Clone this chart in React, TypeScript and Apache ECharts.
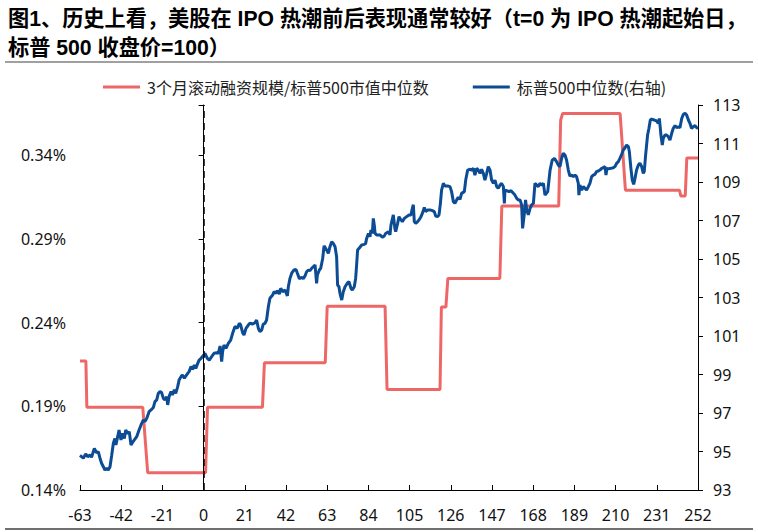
import React, { useEffect, useRef } from "react";
import * as echarts from "echarts";

const titleText = "图1、历史上看，美股在 IPO 热潮前后表现通常较好（t=0 为 IPO 热潮起始日，\n标普 500 收盘价=100）";
const seriesNames = ["3个月滚动融资规模/标普500市值中位数", "标普500中位数(右轴)"];

// x axis: trading days relative to IPO boom start
const xMin = -63;
const xMax = 252;
const xInterval = 21;

// left axis (%)
const leftMin = 0.14;
const leftMax = 0.37;
const leftInterval = 0.05;

// right axis
const rightMin = 93;
const rightMax = 113;
const rightInterval = 2;

// 3-month rolling financing / S&P 500 median market cap (%), breakpoints of the step line
const financingRatio: [number, number][] = [
  [-63, 0.217], [-60, 0.217], [-59.5, 0.1894], [-31, 0.1894], [-28.5, 0.1503],
  [1, 0.1503], [2, 0.1894], [30, 0.1894], [31, 0.216], [62, 0.216],
  [63, 0.2498], [92.5, 0.2498], [93.5, 0.2001], [120.5, 0.2001], [121.2, 0.2493],
  [123.5, 0.2493], [124.5, 0.2664], [151, 0.2664], [152, 0.3096], [181, 0.3096],
  [182, 0.361], [183, 0.3649], [212.3, 0.3649], [215, 0.3191], [242.6, 0.3191],
  [243.2, 0.3157], [245.5, 0.3157], [246.3, 0.3384], [252, 0.3384],
];

// S&P 500 median (t=0 close = 100), right axis
const spxMedian: [number, number][] = [
  [-63, 94.8], [-61.3, 94.65], [-60.1, 94.87], [-59.1, 94.73], [-57.9, 94.82], [-57.1, 94.7],
  [-55.7, 95.16], [-54.5, 94.94], [-53.7, 94.99], [-52.8, 94.65], [-52.0, 94.39], [-51.1, 94.21],
  [-50.3, 94.04], [-49.4, 94.13], [-48.6, 94.04], [-47.7, 94.21], [-46.9, 94.77], [-46.0, 95.43],
  [-45.2, 95.68], [-44.7, 95.34], [-43.8, 95.77], [-43.1, 96.12], [-42.1, 95.6], [-41.4, 95.94],
  [-40.4, 95.68], [-39.7, 96.12], [-38.7, 95.94], [-37.9, 96.03], [-37.0, 95.34], [-36.3, 95.46],
  [-35.3, 95.6], [-34.1, 95.77], [-32.9, 96.12], [-31.9, 96.38], [-30.7, 96.64], [-29.9, 96.55],
  [-29.0, 96.72], [-27.8, 97.07], [-26.8, 97.16], [-25.6, 97.29], [-24.8, 97.59], [-23.9, 97.68],
  [-23.1, 98.02], [-22.2, 98.11], [-21.4, 98.06], [-20.5, 97.76], [-19.7, 97.68], [-18.8, 97.85],
  [-18.3, 97.42], [-17.6, 97.85], [-16.6, 98.11], [-15.9, 97.94], [-14.9, 98.2], [-14.2, 98.02],
  [-13.2, 98.37], [-12.5, 98.71], [-11.5, 98.89], [-10.8, 98.97], [-9.8, 98.8], [-9.1, 98.92],
  [-8.1, 99.06], [-7.4, 99.15], [-6.4, 99.41], [-5.6, 99.27], [-4.7, 99.49], [-4.0, 99.32],
  [-3.0, 99.58], [-2.3, 99.75], [-1.3, 99.84], [0, 100.0],
  [0.7, 100.1], [1.9, 99.84], [2.9, 99.75], [4.1, 99.93], [5.3, 100.1], [6.7, 100.13],
  [7.5, 100.1], [8.4, 100.48], [9.2, 99.67], [9.7, 100.19], [10.4, 100.53], [11.4, 100.36],
  [12.6, 100.62], [13.8, 100.79], [14.8, 101.14], [16.0, 101.49], [17.2, 101.4], [18.2, 101.66],
  [18.9, 101.57], [19.9, 101.17], [20.6, 101.05], [21.6, 101.4], [22.8, 101.57], [23.6, 101.66],
  [25.0, 101.62], [26.2, 101.69], [27.0, 101.83], [27.9, 101.4], [28.7, 101.23], [29.6, 101.31],
  [30.4, 101.62], [31.3, 101.66], [32.1, 101.83], [33.0, 102.52], [33.8, 102.96], [35.2, 103.13],
  [35.9, 103.3], [36.9, 103.22], [37.6, 103.36], [38.6, 103.18], [39.3, 103.48], [40.3, 103.3],
  [41.5, 103.39], [42.7, 103.08], [43.2, 103.56], [44.0, 103.98], [44.9, 104.26], [46.1, 104.43],
  [47.1, 104.46], [47.8, 104.26], [48.8, 103.98], [50.0, 104.05], [50.8, 103.98], [51.7, 104.12],
  [52.5, 104.34], [53.4, 104.43], [54.2, 104.39], [55.1, 104.52], [55.9, 104.6], [56.8, 104.69],
  [57.6, 103.74], [58.0, 104.17], [59.0, 104.43], [59.7, 104.52], [60.7, 105.03], [61.4, 105.68],
  [62.7, 105.47], [63.6, 105.29], [64.4, 105.64], [65.3, 105.9], [66.1, 105.81], [67.0, 105.64],
  [67.8, 105.12], [68.3, 103.65], [69.0, 103.56], [69.5, 103.22], [70.4, 102.87], [71.2, 103.3],
  [72.1, 103.56], [73.4, 103.77], [74.1, 103.82], [75.1, 103.48], [75.8, 103.39], [76.8, 103.56],
  [77.5, 103.99], [78.0, 104.69], [78.5, 105.47], [79.7, 105.61], [80.6, 105.73], [81.9, 105.76],
  [82.6, 105.81], [83.1, 106.07], [84.0, 106.33], [84.8, 106.16], [85.3, 106.51], [86.0, 106.33],
  [86.5, 107.11], [87.0, 106.76], [87.4, 106.33], [88.2, 106.25], [89.9, 106.25], [91.1, 106.13],
  [92.1, 106.2], [92.8, 106.33], [94.2, 106.42], [95.0, 106.25], [95.5, 106.76], [96.7, 107.29],
  [97.5, 106.59], [97.9, 106.42], [98.9, 106.85], [99.6, 107.2], [100.6, 107.03], [101.3, 106.94],
  [102.3, 107.11], [103.5, 107.2], [104.7, 107.29], [105.7, 107.29], [106.4, 107.63], [106.9, 107.82],
  [107.4, 106.94], [108.1, 106.85], [109.1, 106.94], [109.8, 107.03], [110.8, 107.2], [111.5, 107.37],
  [112.5, 107.68], [113.2, 107.46], [114.2, 107.55], [115.4, 107.55], [116.6, 107.51], [117.6, 107.46],
  [118.3, 107.23], [119.3, 107.2], [120.0, 107.29], [120.7, 107.89], [121.3, 108.58], [122.2, 108.93],
  [123.0, 108.79], [124.4, 108.79], [125.6, 108.76], [126.4, 108.5], [127.3, 107.98], [128.1, 107.89],
  [129.0, 108.07], [129.8, 108.2], [130.7, 108.1], [131.5, 108.41], [132.9, 108.5], [133.6, 109.1],
  [134.6, 109.62], [135.8, 109.66], [136.6, 109.62], [137.5, 109.71], [138.3, 109.36], [139.2, 109.71],
  [140.0, 109.62], [140.9, 109.45], [141.7, 109.66], [142.6, 109.45], [143.4, 109.1], [144.3, 109.45],
  [145.1, 109.8], [146.0, 109.62], [146.8, 109.1], [147.7, 108.93], [148.5, 109.1], [149.4, 108.76],
  [150.2, 108.67], [151.1, 108.84], [151.9, 108.93], [152.8, 108.76], [153.3, 107.89], [153.6, 108.58],
  [154.5, 108.55], [155.7, 108.5], [156.7, 108.55], [157.9, 108.41], [158.7, 108.32], [159.6, 108.15],
  [160.4, 108.07], [161.3, 108.07], [162.1, 107.81], [162.6, 106.59], [163.5, 107.37], [164.1, 108.07],
  [164.7, 107.55], [165.5, 107.29], [166.4, 107.63], [167.2, 107.81], [168.1, 107.89], [168.9, 108.93],
  [169.8, 108.84], [170.6, 108.76], [171.4, 108.93], [172.3, 108.84], [173.2, 108.93], [174.0, 108.32],
  [175.4, 108.5], [176.6, 109.62], [177.7, 110.14], [178.8, 110.23], [179.9, 110.06], [180.8, 109.88],
  [181.6, 109.8], [182.5, 110.23], [183.3, 110.49], [184.2, 110.4], [185.0, 110.14], [185.9, 109.62],
  [186.7, 109.31], [187.6, 109.36], [188.4, 109.28], [189.3, 109.36], [190.1, 109.28], [191.0, 108.93],
  [191.3, 108.32], [191.8, 108.84], [192.7, 108.58], [193.5, 108.76], [194.4, 108.67], [195.2, 108.58],
  [196.1, 108.76], [196.9, 108.93], [197.8, 109.28], [198.6, 109.36], [199.5, 109.4], [200.3, 109.54],
  [201.2, 109.57], [202.0, 109.62], [202.9, 109.71], [203.7, 109.74], [204.6, 109.8], [205.1, 109.36],
  [205.6, 109.71], [206.3, 109.68], [207.6, 109.71], [208.8, 109.74], [209.7, 109.8], [210.5, 109.97],
  [211.4, 110.06], [212.2, 110.23], [213.1, 110.44], [213.9, 110.66], [214.8, 110.78], [215.6, 110.92],
  [216.5, 110.84], [217.0, 110.58], [217.8, 109.71], [218.5, 109.1], [219.2, 108.88], [219.9, 109.19],
  [220.7, 109.62], [221.6, 109.88], [222.4, 109.97], [223.3, 109.8], [224.1, 109.45], [224.6, 109.54],
  [225.3, 110.4], [226.3, 111.44], [227.0, 111.79], [227.7, 112.22], [228.4, 112.27], [229.7, 112.22],
  [230.9, 112.17], [231.8, 112.05], [232.3, 112.3], [232.8, 111.79], [233.1, 111.44], [233.8, 110.92],
  [234.3, 111.27], [235.2, 111.44], [236.0, 111.44], [236.9, 111.35], [237.7, 111.18], [238.6, 111.53],
  [239.4, 111.79], [240.3, 111.93], [241.1, 111.82], [242.0, 111.87], [242.8, 111.82], [243.7, 112.3],
  [244.5, 112.51], [245.4, 112.57], [246.2, 112.48], [247.1, 112.22], [247.9, 112.05], [248.7, 111.79],
  [249.6, 111.87], [250.5, 111.93], [251.3, 111.82], [252, 111.79],
];

const RED = "#EE6767";
const BLUE = "#0B4C94";
const AXIS_FONT = "'Noto Sans', 'Noto Sans CJK SC', sans-serif";
const CJK_FONT = "'Noto Sans CJK SC', 'Noto Sans', sans-serif";

export default function App() {
  const ref = useRef<HTMLDivElement>(null);

  useEffect(() => {
    if (!ref.current) return;
    const chart = echarts.init(ref.current, undefined, { renderer: "svg" });
    const axisLine = { show: true, lineStyle: { color: "#000", width: 1 } };
    chart.setOption({
      animation: false,
      backgroundColor: "#fff",
      title: {
        text: titleText,
        left: 8,
        top: 4,
        padding: 0,
        textStyle: {
          fontSize: 21.2,
          fontWeight: "bold",
          color: "#000",
          lineHeight: 29,
          fontFamily: "'Liberation Sans', 'Noto Sans CJK SC', sans-serif",
        },
      },
      legend: {
        left: 103,
        top: 79,
        padding: 0,
        itemGap: 44,
        itemWidth: 37,
        itemHeight: 3,
        icon: "rect",
        textStyle: { fontSize: 16, color: "#222", fontFamily: CJK_FONT, padding: [0, 0, 0, 2] },
        data: seriesNames,
      },
      graphic: [
        { type: "line", shape: { x1: 5, y1: 62, x2: 753, y2: 62 }, style: { stroke: "#808080", lineWidth: 1.5 } },
        { type: "line", shape: { x1: 5, y1: 529, x2: 753, y2: 529 }, style: { stroke: "#404040", lineWidth: 1.5 } },
      ],
      grid: { left: 80, right: 60, top: 105, bottom: 42 },
      xAxis: {
        type: "value",
        min: xMin,
        max: xMax,
        interval: xInterval,
        axisLine,
        axisTick: { show: true, inside: true, length: 5, lineStyle: { color: "#000" } },
        axisLabel: { fontSize: 16, color: "#111", margin: 17, fontFamily: AXIS_FONT },
        splitLine: { show: false },
      },
      yAxis: [
        {
          type: "value",
          min: leftMin,
          max: leftMax,
          interval: leftInterval,
          axisLine,
          axisTick: { show: true, inside: false, length: 5, lineStyle: { color: "#000" } },
          axisLabel: {
            fontSize: 16,
            color: "#111",
            margin: 14,
            fontFamily: AXIS_FONT,
            formatter: (v: number) => (Math.abs(v - leftMax) < 1e-6 ? "" : v.toFixed(2) + "%"),
          },
          splitLine: { show: false },
        },
        {
          type: "value",
          position: "right",
          min: rightMin,
          max: rightMax,
          interval: rightInterval,
          axisLine,
          axisTick: { show: true, inside: false, length: 5, lineStyle: { color: "#000" } },
          axisLabel: { fontSize: 16, color: "#111", margin: 15, fontFamily: AXIS_FONT },
          splitLine: { show: false },
        },
      ],
      series: [
        {
          name: seriesNames[0],
          type: "line",
          yAxisIndex: 0,
          data: financingRatio,
          showSymbol: false,
          symbol: "none",
          lineStyle: { color: RED, width: 3 },
          itemStyle: { color: RED },
          z: 2,
          markLine: {
            silent: true,
            symbol: "none",
            label: { show: false },
            lineStyle: { color: "#000", type: [7, 5], width: 1.5 },
            data: [{ xAxis: 0 }],
          },
        },
        {
          name: seriesNames[1],
          type: "line",
          yAxisIndex: 1,
          data: spxMedian,
          showSymbol: false,
          symbol: "none",
          lineStyle: { color: BLUE, width: 3 },
          itemStyle: { color: BLUE },
          z: 3,
        },
      ],
    });
    return () => chart.dispose();
  }, []);

  return (
    <div
      ref={ref}
      style={{ position: "fixed", left: 0, top: 0, width: 758, height: 532, background: "#fff" }}
    />
  );
}
